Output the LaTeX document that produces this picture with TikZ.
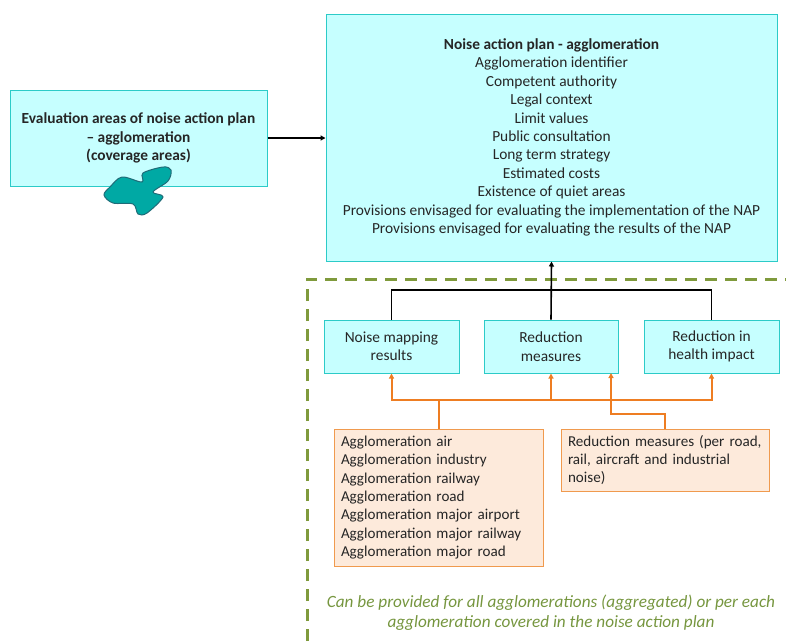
\documentclass[tikz,border=0pt]{standalone}
\usepackage{fontspec}
\setmainfont{Carlito}
\usepackage{tikz}
\usetikzlibrary{arrows.meta}
\usetikzlibrary{positioning}
\definecolor{cyanfill}{HTML}{C6FFFF}
\definecolor{cyanline}{HTML}{2CCBC8}
\definecolor{orangefill}{HTML}{FDEADB}
\definecolor{orangeline}{HTML}{F09A4E}
\definecolor{orangearrow}{HTML}{EE7D22}
\definecolor{greenline}{HTML}{7F9A3C}
\definecolor{greentext}{HTML}{76963F}
\definecolor{blobfill}{HTML}{00A9A4}
\definecolor{blobline}{HTML}{1F6C78}
\tikzset{
  cyanbox/.style={draw=cyanline, fill=cyanfill, line width=1pt, align=center, inner sep=0pt, execute at begin node={\rule{0pt}{14.5pt}}},
  orangebox/.style={draw=orangeline, fill=orangefill, line width=1pt, align=left, inner xsep=7pt, inner ysep=0pt, text width=#1, font=\fontsize{15.1}{18.4}\selectfont},
  blackline/.style={draw=black, line width=1.6pt},
  orangeconn/.style={draw=orangearrow, line width=2pt},
  tip/.style={-{Triangle[length=5pt,width=5pt]}}
}
\begin{document}
\begin{tikzpicture}[x=1pt, y=-1pt, font=\fontsize{15.4}{18.4}\selectfont, text=black!85]
\useasboundingbox (0,0) rectangle (786,641);
% top boxes
\node[cyanbox, minimum width=451pt, minimum height=247pt] (NAP) at (551.5,137.5) {%
  \textbf{Noise action plan - agglomeration}\\
  Agglomeration identifier\\
  Competent authority\\
  Legal context\\
  Limit values\\
  Public consultation\\
  Long term strategy\\
  Estimated costs\\
  Existence of quiet areas\\
  Provisions envisaged for evaluating the implementation of the NAP\\
  Provisions envisaged for evaluating the results of the NAP};
\node[cyanbox, minimum width=257pt, minimum height=96pt] (EVAL) at (138.5,138) {%
  \textbf{Evaluation areas of noise action plan}\\
  \textbf{– agglomeration}\\
  \textbf{(coverage areas)}};
% blob
\draw[fill=blobfill, draw=blobline, line width=1pt] plot[smooth cycle, tension=0.55] coordinates {
  (122,177) (142,182) (143,173) (163,167) (171,170) (168,181) (153,192) (163,197)
  (147,213) (138,214) (133,204) (113,203) (104,195) (110,187)};
% middle boxes
\node[cyanbox, minimum width=135pt, minimum height=53pt] (MAP) at (391.5,346.5) {Noise mapping\\results};
\node[cyanbox, minimum width=134pt, minimum height=53pt] (RED) at (551,346.5) {Reduction\\measures};
\node[cyanbox, minimum width=135pt, minimum height=53pt] (HEALTH) at (711.5,346.5) {Reduction in\\health impact};
% orange boxes
\node[orangebox=195pt, minimum height=137pt] (AGG) at (438.5,497.5) {%
  Agglomeration air\\
  Agglomeration industry\\
  Agglomeration railway\\
  Agglomeration road\\
  Agglomeration major airport\\
  Agglomeration major railway\\
  Agglomeration major road};
\node[orangebox=194pt, minimum height=62pt] (RMS) at (665,460) {%
  Reduction measures (per road,\\
  rail, aircraft and industrial\\
  noise)};
% note
\node[text=greentext, align=center, font=\fontsize{17.2}{20.5}\selectfont\itshape] (NOTE) at (551,612.5) {%
  Can be provided for all agglomerations (aggregated) or per each\\
  agglomeration covered in the noise action plan};
% dashed frame
\coordinate (FA) at (307,641);
\coordinate (FB) at (307,279);
\coordinate (FC) at (786,279);
\draw[greenline, line width=3pt, dash pattern=on 12pt off 8pt] (FA) -- (FB) -- (FC);
% connectors
\coordinate (J) at (551,290);
\coordinate (K) at (551,400);
\coordinate (L) at (611,414);
\coordinate (M) at (611,373);
\draw[blackline, tip] (EVAL.east) -- (NAP.west |- EVAL.east);
\draw[blackline, tip] (RED.north) -- (NAP.south);
\draw[blackline] (MAP.north) |- (J) -| (HEALTH.north);
\draw[orangeconn, tip] (AGG.north) |- (K) -| (MAP.south);
\draw[orangeconn, tip] (K) -- (RED.south);
\draw[orangeconn, tip] (K) -| (HEALTH.south);
\draw[orangeconn, tip] (RMS.north) |- (L) -- (M);
\end{tikzpicture}
\end{document}
